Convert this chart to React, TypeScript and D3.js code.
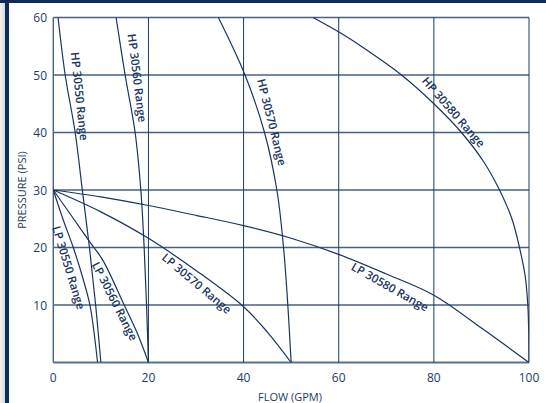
import React from "react";
import * as d3 from "d3";

const W = 546;
const H = 403;

const xTicks = [0, 20, 40, 60, 80, 100];
const yTicks = [10, 20, 30, 40, 50, 60];

// [flow (GPM), pressure (PSI)]
const hp30550: [number, number][] = [[1.0, 60], [2.5, 50], [4.6, 40], [6.1, 30], [7.6, 20], [8.9, 10], [10, 0]];
const hp30560: [number, number][] = [[13.2, 60], [15.1, 50], [17.2, 40], [18.4, 30], [19.1, 20], [19.6, 10], [20, 0]];
const hp30570: [number, number][] = [[34.7, 60], [40.3, 50], [44.4, 40], [47.0, 30], [48.4, 20], [49.3, 10], [50, 0]];
const hp30580: [number, number][] = [[54.6, 60], [61.0, 57], [66.5, 54], [73.2, 50], [80.0, 45], [85.8, 40], [90.4, 35], [93.8, 30], [96.4, 25], [98.0, 20], [99.2, 15], [99.75, 10], [99.95, 5], [100, 0]];
const lp30550: [number, number][] = [[0, 30], [2.0, 25], [4.2, 20], [6.1, 15], [7.7, 10], [8.6, 5], [9.3, 0]];
const lp30560: [number, number][] = [[0, 30], [4, 25.3], [8, 20.6], [10.4, 17.8], [14.9, 10], [17.6, 5.2], [20, 0]];
const lp30570: [number, number][] = [[0, 30], [10, 26.2], [20, 21.6], [30, 16.0], [40, 9.7], [45, 5.3], [50, 0]];
const lp30580: [number, number][] = [[0, 30], [10, 28.8], [20, 27.3], [30, 25.6], [40, 23.8], [50, 21.6], [60, 18.8], [70, 15.4], [80, 11.7], [90, 6.0], [100, 0]];

const curves = [hp30550, hp30560, hp30570, hp30580, lp30550, lp30560, lp30570, lp30580];

const labelTexts = ["HP 30550 Range", "HP 30560 Range", "HP 30570 Range", "HP 30580 Range", "LP 30550 Range", "LP 30560 Range", "LP 30570 Range", "LP 30580 Range"];
// label anchor in data units and rotation
const labelPos: [number, number, number][] = [
  [5.6, 46.3, 84],
  [17.7, 49.5, 83],
  [46.0, 41.8, 76],
  [84.2, 43.6, 49],
  [3.3, 16.5, 73],
  [13.0, 10.7, 63],
  [30.2, 13.8, 40],
  [70.8, 13.2, 29.5],
];

const navy = "#17355f";

export default function App() {
  const x = d3.scaleLinear().domain([0, 100]).range([53.3, 529]);
  const y = d3.scaleLinear().domain([0, 60]).range([362.5, 17.5]);
  const line = d3
    .line<[number, number]>()
    .x((d) => x(d[0]))
    .y((d) => y(d[1]))
    .curve(d3.curveCatmullRom.alpha(0.5));

  return (
    <svg
      width={W}
      height={H}
      style={{ position: "absolute", left: 0, top: 0, background: "#fff" }}
      fontFamily="'Open Sans', 'DejaVu Sans', sans-serif"
    >
      <defs>
        <linearGradient id="lg" x1="0" x2="1" y1="0" y2="0">
          <stop offset="0" stopColor="#f2f2f2" />
          <stop offset="1" stopColor="#d8d8d8" />
        </linearGradient>
        <clipPath id="pc">
          <rect x={x(0)} y={y(60)} width={x(100) - x(0)} height={y(0) - y(60)} />
        </clipPath>
      </defs>
      <rect x={0} y={0} width={W} height={H} fill="#fff" />
      <rect x={0} y={0} width={5} height={H} fill="url(#lg)" />
      <rect x={5} y={0} width={4} height={H} fill="#0c2b56" />
      <rect x={0} y={0} width={W} height={3} fill="#0c2b56" />

      {/* horizontal grid */}
      {yTicks.map((t) => (
        <line key={"h" + t} x1={x(0)} x2={x(100)} y1={y(t)} y2={y(t)} stroke="#4a6282" strokeWidth={1.4} />
      ))}
      <line x1={x(0)} x2={x(100)} y1={y(0)} y2={y(0)} stroke="#5a7090" strokeWidth={1.8} />
      {/* vertical grid */}
      {xTicks.map((t) => (
        <line key={"v" + t} x1={x(t)} x2={x(t)} y1={y(60)} y2={y(0)} stroke={t === 0 ? "#4a6282" : "#1d3a60"} strokeWidth={t === 0 ? 1.4 : 1} />
      ))}

      {/* curves */}
      <g clipPath="url(#pc)">
        {curves.map((c, i) => (
          <path key={"c" + i} d={line(c) || ""} fill="none" stroke={navy} strokeWidth={1.2} />
        ))}
      </g>

      {/* curve labels */}
      {labelTexts.map((t, i) => {
        const [fx, fy, a] = labelPos[i];
        return (
          <text
            key={"l" + i}
            transform={`translate(${x(fx)},${y(fy)}) rotate(${a})`}
            textAnchor="middle"
            dominantBaseline="central"
            fontSize={11.5}
            fontWeight={600}
            fill={navy}
          >
            {t}
          </text>
        );
      })}

      {/* tick labels */}
      {yTicks.map((t) => (
        <text key={"yl" + t} x={47} y={y(t)} textAnchor="end" dominantBaseline="central" fontSize={12} fill="#1d3b63">
          {t}
        </text>
      ))}
      {xTicks.map((t) => (
        <text key={"xl" + t} x={x(t)} y={377} textAnchor="middle" dominantBaseline="central" fontSize={12} fill="#1d3b63">
          {t}
        </text>
      ))}
      <text x={290} y={396} textAnchor="middle" dominantBaseline="central" fontSize={11} fill="#1d3b63">
        FLOW (GPM)
      </text>
      <text transform={`translate(21,190) rotate(-90)`} textAnchor="middle" dominantBaseline="central" fontSize={11} fill="#1d3b63">
        PRESSURE (PSI)
      </text>
    </svg>
  );
}
